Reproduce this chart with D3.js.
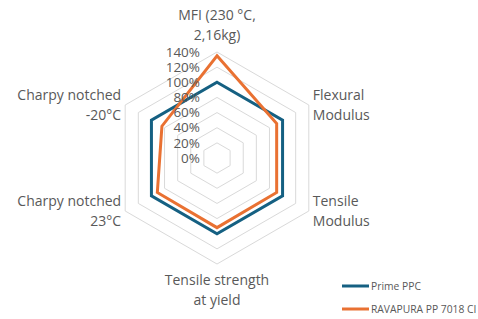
<!DOCTYPE html>
<html>
<head>
<script src="https://d3js.org/d3.v7.min.js"></script>
<meta charset="utf-8">
<style>
body { margin: 0; background: #fff; }
svg { font-family: "Open Sans", Lato, sans-serif; }
.tick { font-size: 13.5px; fill: #595959; }
.cat { font-size: 14px; fill: #595959; }
.leg { font-size: 10.3px; fill: #595959; }
</style>
</head>
<body>
<div class="chart"></div>
<script>

// categories, clockwise from top
var categories = [
  ["MFI (230 °C,", "2,16kg)"],
  ["Flexural", "Modulus"],
  ["Tensile", "Modulus"],
  ["Tensile strength", "at yield"],
  ["Charpy notched", "23°C"],
  ["Charpy notched", "-20°C"]
];
var seriesNames = ["Prime PPC", "RAVAPURA PP 7018 CI"];
var primePPC = [100, 100, 100, 100, 100, 100];
var ravapura = [135, 91, 91, 92, 91, 84];
var tickValues = [0, 20, 40, 60, 80, 100, 120, 140];

var width = 478, height = 319,
    cx = 217, cy = 158,
    radius = 106;

var colors = ["#156082", "#E97132"];

var svg = d3.select(".chart").append("svg")
  .attr("width", width)
  .attr("height", height);

var r = d3.scaleLinear().domain([0, 140]).range([0, radius]);
var angle = d3.scaleLinear().domain([0, categories.length]).range([0, 2 * Math.PI]);

function pt(i, v) {
  var a = angle(i);
  return [cx + r(v) * Math.sin(a), cy - r(v) * Math.cos(a)];
}

// grid rings
var g = svg.append("g");
g.selectAll(".ring")
  .data(tickValues.filter(function(d) { return d > 0; }))
  .enter().append("polygon")
  .attr("points", function(v) {
    return categories.map(function(c, i) { return pt(i, v).join(","); }).join(" ");
  })
  .attr("fill", "none")
  .attr("stroke", "#d9d9d9")
  .attr("stroke-width", 1);

// series
var line = d3.line().curve(d3.curveLinearClosed);
[primePPC, ravapura].forEach(function(vals, s) {
  svg.append("path")
    .attr("d", line(vals.map(function(v, i) { return pt(i, v); })))
    .attr("fill", "none")
    .attr("stroke", colors[s])
    .attr("stroke-width", 3)
    .attr("stroke-linejoin", "miter");
});

// value labels
svg.selectAll(".tick")
  .data(tickValues)
  .enter().append("text")
  .attr("class", "tick")
  .attr("x", cx - 17)
  .attr("y", function(d) { return cy - r(d); })
  .attr("dy", "0.35em")
  .attr("text-anchor", "end")
  .text(function(d) { return d + "%"; });

// category labels
categories.forEach(function(lines, i) {
  var p = pt(i, 140), a = angle(i);
  var sx = Math.sin(a), anchor = "middle", x = p[0], y0;
  if (Math.abs(sx) < 0.01) {
    y0 = Math.cos(a) > 0 ? p[1] - 37 : p[1] + 16;
  } else {
    anchor = sx > 0 ? "start" : "end";
    x = p[0] + (sx > 0 ? 4 : -4);
    y0 = p[1] - 10;
  }
  var t = svg.append("text").attr("class", "cat")
    .attr("text-anchor", anchor);
  lines.forEach(function(l, k) {
    t.append("tspan").attr("x", x).attr("y", y0 + k * 20)
      .attr("dy", "0.35em").text(l);
  });
});

// legend
var leg = svg.selectAll(".legend")
  .data(seriesNames)
  .enter().append("g")
  .attr("transform", function(d, i) { return "translate(342," + (286 + i * 23) + ")"; });
leg.append("line")
  .attr("x1", 0).attr("x2", 27)
  .attr("stroke", function(d, i) { return colors[i]; })
  .attr("stroke-width", 3);
leg.append("text")
  .attr("class", "leg")
  .attr("x", 29)
  .attr("dy", "0.35em")
  .text(function(d) { return d; });

</script>
</body>
</html>
